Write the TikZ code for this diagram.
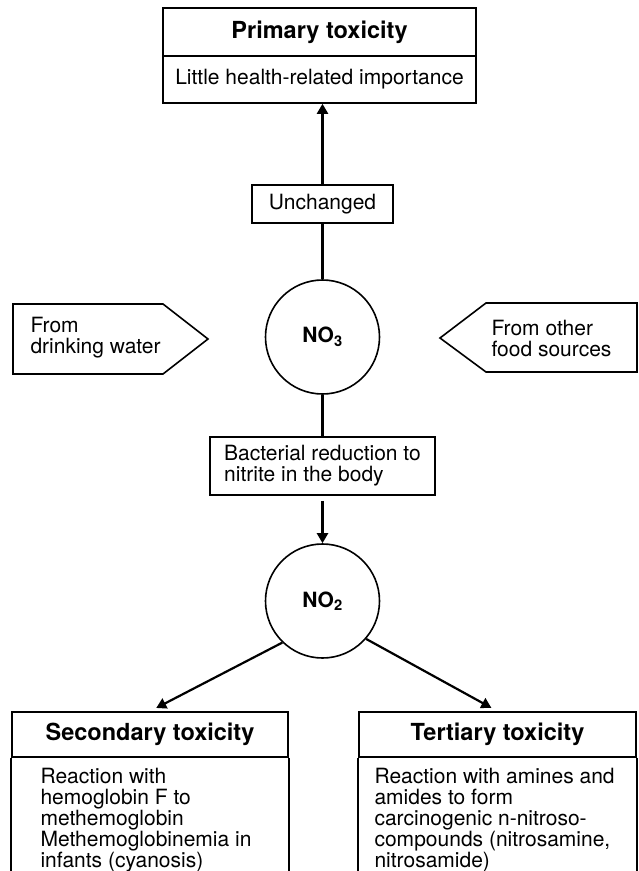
\documentclass[tikz,border=0pt]{standalone}
\usepackage{fontspec}
\setmainfont{TeX Gyre Heros}
\usetikzlibrary{positioning}
\usetikzlibrary{arrows.meta}
\tikzset{
every node/.style={ % One size for every text
font=\fontsize{21}{21}\selectfont},
box/.style={ % Sets the properties for each framed text
draw,
line width=1.6pt,
inner sep=0pt,
align=center},
title/.style={ % Bold headings, a little larger
box,
font=\fontsize{23.5}{23.5}\selectfont\bfseries},
compound/.style={ % Circles for NO3 and NO2
draw,
circle,
line width=1.6pt,
minimum size=114pt,
font=\fontsize{21}{21}\selectfont\bfseries},
source/.style={ % Pointed boxes on the sides
line width=1.6pt,
line join=miter},
link/.style={ % Plain connectors
draw,
line width=2.2pt},
flow/.style={ % Directed connectors
link,
-{Triangle[length=10pt,width=11pt]}}}

\begin{document}
\begin{tikzpicture}[x=1pt, y=-1pt]
\useasboundingbox (0,0) rectangle (639,871);

% primary toxicity at the top
\node[title, minimum width=313pt, minimum height=48pt] (prim) at (319.5,32) {Primary toxicity};
\node[box, minimum width=313pt, minimum height=47pt] (imp) at (319.5,79.5) {Little health-related importance};
\node[box, minimum width=141pt, minimum height=38pt] (unch) at (322.5,204) {Unchanged};

% nitrate and its sources
\node[compound] (no3) at (322.5,337) {NO\textsubscript{3}};
\draw[source] (13,304) -- (163,304) -- (208,339) -- (163,374) -- (13,374) -- cycle;
\node[anchor=west, align=left] (water) at (27,338) {From\\drinking water};
\draw[source] (637,303) -- (486,303) -- (440,338) -- (486,372) -- (637,372) -- cycle;
\node[anchor=west, align=left] (food) at (488,338) {From other\\food sources};

\node[box, minimum width=225pt, minimum height=58pt, align=left] (bact) at (322.5,466) {Bacterial reduction to\\nitrite in the body};
\node[compound] (no2) at (322.5,601) {NO\textsubscript{2}};

% secondary and tertiary toxicity, open at the bottom
\node[title, minimum width=276pt, minimum height=45pt] (sec) at (150,734.5) {Secondary toxicity};
\node[title, minimum width=277pt, minimum height=45pt] (ter) at (497.5,734.5) {Tertiary toxicity};
\draw[line width=1.6pt] (sec.south west) -- ++(0,114);
\draw[line width=1.6pt] (sec.south east) -- ++(0,114);
\draw[line width=1.6pt] (ter.south west) -- ++(0,114);
\draw[line width=1.6pt] (ter.south east) -- ++(0,114);
\node[anchor=north west, align=left] (met) at (37,765) {Reaction with\\hemoglobin F to\\methemoglobin\\Methemoglobinemia in\\infants (cyanosis)};
\node[anchor=north west, align=left] (nit) at (371,765) {Reaction with amines and\\amides to form\\carcinogenic n-nitroso-\\compounds (nitrosamine,\\nitrosamide)};

% connectors
\draw[flow] (unch.north) -- (unch.north |- imp.south);
\draw[link] (unch) -- (no3);
\draw[link] (no3) -- (bact);
\draw[flow, shorten <=5pt] (bact) -- (no2);
\draw[flow, shorten >=7pt] (no2.226) -- (sec.north);
\draw[flow, shorten >=7pt] (no2.-41) -- (ter.north);
\end{tikzpicture}
\end{document}
